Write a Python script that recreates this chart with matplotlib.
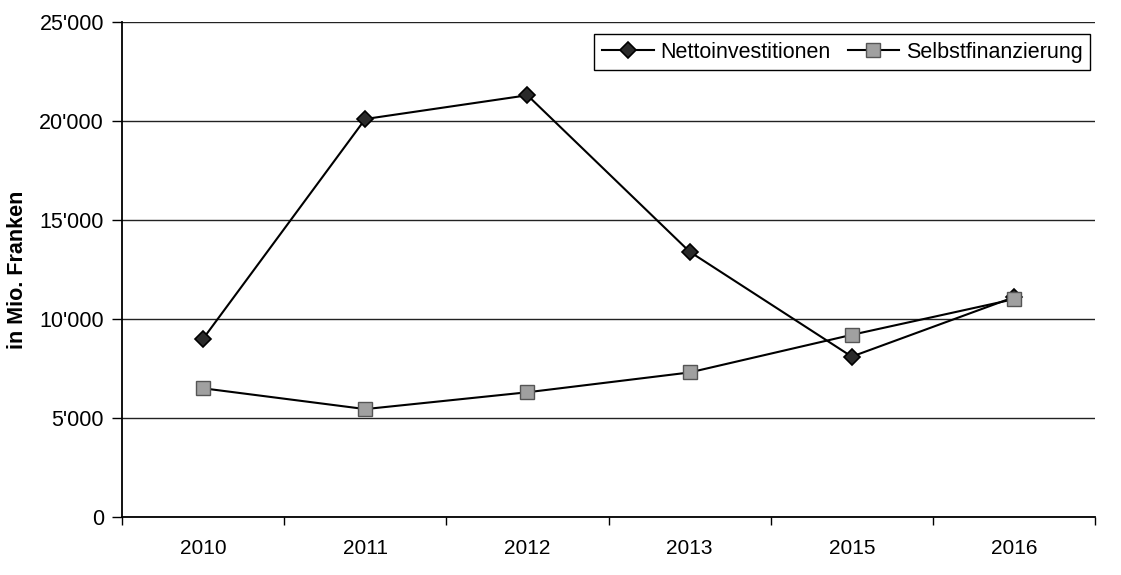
import numpy as np
import matplotlib
matplotlib.use("Agg")
import matplotlib.pyplot as plt
from matplotlib.ticker import FuncFormatter, MultipleLocator

plt.rcParams['font.family'] = ['Liberation Sans', 'DejaVu Sans']

years = ["2010", "2011", "2012", "2013", "2015", "2016"]
netto = [9000, 20100, 21300, 13400, 8100, 11100]      # Nettoinvestitionen
selbst = [6500, 5450, 6300, 7300, 9200, 11000]        # Selbstfinanzierung
yticks = [0, 5000, 10000, 15000, 20000, 25000]

fig = plt.figure(figsize=(11.21, 5.75), dpi=100)
ax = fig.add_axes([122/1121, 1-517/575, (1095-122)/1121, (517-22)/575])

x = np.arange(len(years))
ax.plot(x, netto, color="black", lw=1.5, marker="D", ms=8.5,
        mfc="#2a2a2a", mec="black", mew=1.2, label="Nettoinvestitionen", zorder=3)
ax.plot(x, selbst, color="black", lw=1.5, marker="s", ms=10.5,
        mfc="#a0a0a0", mec="#555555", mew=1.0, label="Selbstfinanzierung", zorder=4)

ax.set_xlim(-0.5, len(years) - 0.5)
ax.set_ylim(0, 25000)
ax.set_yticks(yticks)
ax.yaxis.set_major_formatter(FuncFormatter(lambda v, p: "0" if v == 0 else f"{int(v):,}".replace(",", "'")))
ax.set_xticks(x)
ax.set_xticklabels(years)
ax.xaxis.set_minor_locator(MultipleLocator(1, offset=0.5))
ax.tick_params(axis="x", which="major", length=0, pad=16, labelsize=15)
ax.tick_params(axis="x", which="minor", length=6, width=1, direction="out")
ax.tick_params(axis="y", length=7, width=1, direction="out", labelsize=15.5, pad=6)

ax.grid(axis="y", color="#222222", lw=1.0)
ax.set_axisbelow(True)
for s in ["top", "right"]:
    ax.spines[s].set_visible(False)
for s in ["left", "bottom"]:
    ax.spines[s].set_linewidth(1.3)

ax.set_ylabel("in Mio. Franken", fontsize=15.5, fontweight="bold", labelpad=8)

leg = ax.legend(loc="upper right", bbox_to_anchor=(1090/1121, 1-34/575),
                bbox_transform=fig.transFigure, borderaxespad=0, ncol=2,
                fontsize=15.5, frameon=True, fancybox=False, framealpha=1,
                edgecolor="black", handlelength=2.4, handletextpad=0.3,
                columnspacing=0.8, borderpad=0.35)
leg.get_frame().set_linewidth(1.0)

fig.savefig("out.png", dpi=100, facecolor="white")
